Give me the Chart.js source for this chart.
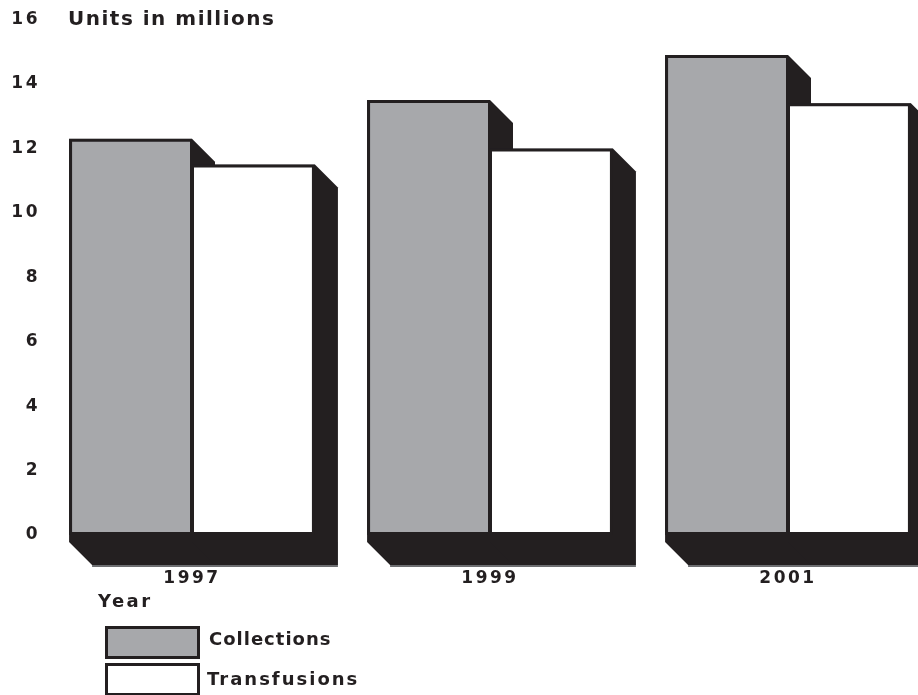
<!DOCTYPE html>
<html>
<head>
<meta charset="utf-8">
<script src="https://cdn.jsdelivr.net/npm/chart.js@4"></script>
<style>
  html, body { margin: 0; padding: 0; width: 918px; height: 695px; overflow: hidden; background: #fff; }
  #wrap { position: relative; width: 918px; height: 695px; overflow: hidden; }
  #chart { position: absolute; left: 0; top: 0; }
  .txt { position: absolute; font-family: 'DejaVu Sans', sans-serif; font-weight: bold; color: #231f20; white-space: nowrap; }
  .box { position: absolute; left: 105px; width: 95px; height: 33px; box-sizing: border-box; border: 3px solid #231f20; }
</style>
</head>
<body>
<div id="wrap">
  <canvas id="chart" width="937" height="600"></canvas>
  <div class="txt" style="left:68px; top:8px; font-size:20px; line-height:20px; letter-spacing:1.5px;">Units in millions</div>
  <div class="txt" style="left:98px; top:592px; font-size:18px; line-height:18px; letter-spacing:2.5px;">Year</div>
  <div class="box" style="top:626px; background:#a7a8ab;"></div>
  <div class="box" style="top:663px; background:#fff;"></div>
  <div class="txt" style="left:209px; top:630px; font-size:18px; line-height:18px; letter-spacing:1px;">Collections</div>
  <div class="txt" style="left:207px; top:670px; font-size:18px; line-height:18px; letter-spacing:2px;">Transfusions</div>
</div>
<script>
const years = ['1997', '1999', '2001'];
const collections = [12.3, 13.5, 14.9];
const transfusions = [11.5, 12.0, 13.4];
const yTicks = [0, 2, 4, 6, 8, 10, 12, 14, 16];

const ink = '#231f20';

// wider glyph spacing for the canvas text
const spacing = {
  id: 'spacing',
  beforeUpdate(chart) { chart.ctx.letterSpacing = '2.5px'; },
  beforeDraw(chart) { chart.ctx.letterSpacing = '2.5px'; }
};

// black extruded "3D" block behind each bar
const extrude = {
  id: 'extrude',
  beforeDatasetsDraw(chart) {
    const ctx = chart.ctx;
    const d = 23;
    ctx.save();
    chart.data.datasets.forEach((ds, i) => {
      chart.getDatasetMeta(i).data.forEach(bar => {
        const { x, y, base, width } = bar.getProps(['x', 'y', 'base', 'width'], true);
        const l = x - width / 2, r = x + width / 2;
        ctx.fillStyle = ink;
        ctx.beginPath();
        ctx.moveTo(l, y);
        ctx.lineTo(r, y);
        ctx.lineTo(r + d, y + d);
        ctx.lineTo(r + d, base + 30);
        ctx.lineTo(l + d, base + 30);
        ctx.lineTo(l, base + 7);
        ctx.closePath();
        ctx.fill();
        ctx.fillStyle = '#6d6e71';
        ctx.fillRect(l + d, base + 30, r - l, 2);
      });
    });
    ctx.restore();
  }
};

const ctx = document.getElementById('chart').getContext('2d');
const chart = new Chart(ctx, {
  type: 'bar',
  data: {
    labels: years,
    datasets: [{
      label: 'Collections',
      data: collections,
      backgroundColor: '#a7a8ab',
      borderColor: ink,
      borderWidth: { top: 3, left: 3, bottom: 3, right: 2 },
      borderSkipped: false
    }, {
      label: 'Transfusions',
      data: transfusions,
      backgroundColor: '#ffffff',
      borderColor: ink,
      borderWidth: { top: 3, left: 2, bottom: 3, right: 3 },
      borderSkipped: false
    }]
  },
  options: {
    responsive: false,
    animation: false,
    layout: { padding: { top: 19.5, left: 0, right: 0, bottom: 0 } },
    datasets: {
      bar: { categoryPercentage: 0.825, barPercentage: 1.0 }
    },
    plugins: {
      legend: { display: false },
      tooltip: { enabled: false }
    },
    scales: {
      x: {
        grid: { display: false, drawTicks: false },
        border: { display: false },
        ticks: {
          color: ink,
          padding: 33,
          font: { family: 'DejaVu Sans', size: 17, weight: 'bold' }
        },
        afterFit(scale) { scale.height = 65; }
      },
      y: {
        min: 0,
        max: 16,
        afterBuildTicks(scale) { scale.ticks = yTicks.map(v => ({ value: v })); },
        grid: { display: false, drawTicks: false },
        border: { display: false },
        ticks: {
          color: ink,
          padding: 3,
          font: { family: 'DejaVu Sans', size: 17, weight: 'bold' }
        },
        afterFit(scale) { scale.width = 43; }
      }
    }
  },
  plugins: [spacing, extrude]
});
</script>
</body>
</html>
